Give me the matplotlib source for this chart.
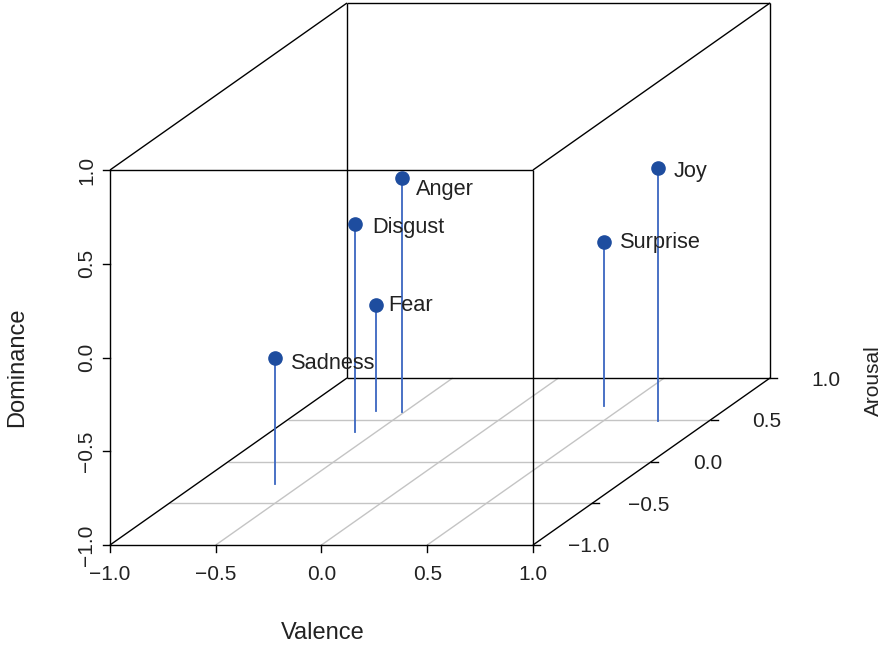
import matplotlib.pyplot as plt

# PAD-Werte (Valence, Arousal, Dominance)
emotions = ['Joy', 'Surprise', 'Anger', 'Disgust', 'Fear', 'Sadness']
valence = [0.76, 0.40, -0.51, -0.60, -0.64, -0.63]
arousal = [0.48, 0.67, 0.59, 0.35, 0.60, -0.27]
dominance = [0.35, -0.13, 0.25, 0.11, -0.43, -0.33]
ticks = [-1.0, -0.5, 0.0, 0.5, 1.0]
tick_labels = ['\u22121.0', '\u22120.5', '0.0', '0.5', '1.0']

# label nudges (pixels) so text does not sit on the lines
nudge = {'Anger': (14, 12), 'Fear': (13, 1), 'Disgust': (18, 3), 'Sadness': (16, 5),
         'Joy': (16, 3), 'Surprise': (16, 0)}

X0, W, DX = 110, 423, 237
Y0, H, DY = 545, 375, 167


def proj(v, a, d):
    x = X0 + (v + 1) / 2 * W + (a + 1) / 2 * DX
    y = Y0 - (d + 1) / 2 * H - (a + 1) / 2 * DY
    return x, y


def seg(p, q, **kw):
    x1, y1 = proj(*p)
    x2, y2 = proj(*q)
    ax.plot([x1, x2], [y1, y2], solid_capstyle='butt', **kw)


plt.rcParams['font.family'] = ['Liberation Sans', 'DejaVu Sans']
fig = plt.figure(figsize=(8.87, 6.45), dpi=100)
ax = fig.add_axes([0, 0, 1, 1])
ax.set_xlim(0, 887)
ax.set_ylim(645, 0)
ax.axis('off')

box = dict(color='black', lw=1.0)
grid = dict(color='#c4c4c4', lw=1.0)

# boden-gitter
for t in ticks[1:-1]:
    seg((-1, t, -1), (1, t, -1), **grid)
    seg((t, -1, -1), (t, 1, -1), **grid)

# box
seg((-1, 1, -1), (1, 1, -1), **box)
seg((-1, -1, -1), (-1, 1, -1), **box)
seg((-1, 1, -1), (-1, 1, 1), **box)
seg((1, 1, -1), (1, 1, 1), **box)
seg((-1, 1, 1), (1, 1, 1), **box)
seg((-1, -1, 1), (-1, 1, 1), **box)
seg((1, -1, 1), (1, 1, 1), **box)
seg((1, -1, -1), (1, 1, -1), **box)
seg((-1, -1, -1), (1, -1, -1), **box)
seg((-1, -1, -1), (-1, -1, 1), **box)
seg((1, -1, -1), (1, -1, 1), **box)
seg((-1, -1, 1), (1, -1, 1), **box)

# tocke + crte do tal
for name, v, a, d in zip(emotions, valence, arousal, dominance):
    x, y = proj(v, a, d)
    xb, yb = proj(v, a, -1)
    ax.plot([x, xb], [y, yb], color='#3a66c0', lw=1.3, zorder=3)
    ax.plot(x, y, 'o', color='#1e4d9f', ms=9.5, zorder=4)
    dx, dy = nudge[name]
    ax.text(x + dx, y + dy, name, fontsize=15.7, color='#222222', va='center', ha='left', zorder=5)

fs = 15
# valence axis
for t, lab in zip(ticks, tick_labels):
    x, y = proj(t, -1, -1)
    ax.plot([x, x], [y, y + 7], color='black', lw=1.0)
    ax.text(x, y + 29, lab, fontsize=fs, ha='center', va='center', color='#222222')
    # dominance axis
    x, y = proj(-1, -1, t)
    ax.plot([x - 7, x], [y, y], color='black', lw=1.0)
    ax.text(x - 23, y, lab, fontsize=fs, ha='center', va='center', rotation=90, color='#222222')
    # arousal axis
    x, y = proj(1, t, -1)
    ax.plot([x, x + 7], [y, y], color='black', lw=1.0)
    ax.text(x + 56, y + 2, lab, fontsize=fs, ha='center', va='center', color='#222222')

ax.text(323, 633, 'Valence', fontsize=17, ha='center', va='center', color='#222222')
ax.text(17, 367, 'Dominance', fontsize=17, ha='center', va='center', rotation=90, color='#222222')
ax.text(873, 381, 'Arousal', fontsize=15, ha='center', va='center', rotation=90, color='#222222')

plt.savefig('out.png', dpi=100)
